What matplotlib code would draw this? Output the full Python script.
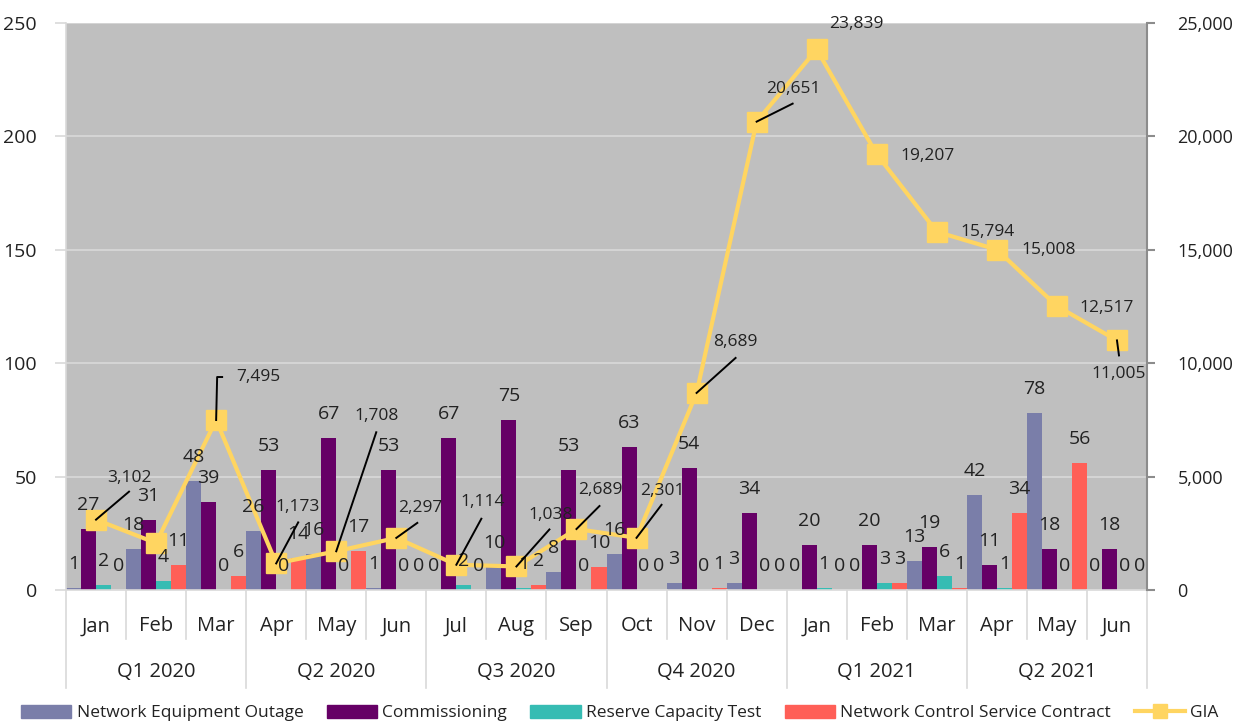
import matplotlib
matplotlib.use("Agg")
import matplotlib.pyplot as plt
from matplotlib.lines import Line2D
from matplotlib.patches import Patch
from matplotlib.ticker import FuncFormatter, MultipleLocator
from matplotlib.transforms import IdentityTransform

plt.rcParams['font.family'] = ['Open Sans', 'DejaVu Sans']

months = ["Jan", "Feb", "Mar", "Apr", "May", "Jun", "Jul", "Aug", "Sep",
          "Oct", "Nov", "Dec", "Jan", "Feb", "Mar", "Apr", "May", "Jun"]
quarters = ["Q1 2020", "Q2 2020", "Q3 2020", "Q4 2020", "Q1 2021", "Q2 2021"]

network_equipment_outage = [1, 18, 48, 26, 16, 1, 0, 10, 8, 16, 3, 3, 0, 0, 13, 42, 78, 0]
commissioning = [27, 31, 39, 53, 67, 53, 67, 75, 53, 63, 54, 34, 20, 20, 19, 11, 18, 18]
reserve_capacity_test = [2, 4, 0, 0, 0, 0, 2, 1, 0, 0, 0, 0, 1, 3, 6, 1, 0, 0]
network_control_service_contract = [0, 11, 6, 14, 17, 0, 0, 2, 10, 0, 1, 0, 0, 3, 1, 34, 56, 0]
gia = [3102, 2070, 7495, 1173, 1708, 2297, 1114, 1038, 2689, 2301, 8689, 20651,
       23839, 19207, 15794, 15008, 12517, 11005]
gia_label_shown = [True, False] + [True] * 16

# GIA label offsets (pixels, up = positive) and leader-line polyline points
gia_offsets = [(33, 42), None, (42, 43), (21, 56), (40, 135), (24, 30), (26, 63),
               (34, 51), (24, 39), (26, 47), (39, 51), (37, 33), (40, 25),
               (51, -2), (51, 0), (52, 0), (50, -2), (2, -34)]
leader_ends = [[(33, 28)], None, [(1, 43), (6, 43)], [(22, 41)], [(40, 119)], [(21, 15)],
               [(25, 46)], [(33, 37)], [(23, 23)], [(25, 33)], [(39, 35)], [(36, 18)],
               None, None, None, None, None, [(2, -15)]]

series = [network_equipment_outage, commissioning, reserve_capacity_test,
          network_control_service_contract]
names = ["Network Equipment Outage", "Commissioning", "Reserve Capacity Test",
         "Network Control Service Contract"]
colors = ["#7A7EA9", "#660066", "#36BCB3", "#FF5F57"]
gia_color = "#FFD561"
text_color = "#222222"

W, H = 1247, 725
fig = plt.figure(figsize=(W / 100, H / 100), dpi=100)
L, R, T, B = 66, 1147, 23, 590
ax = fig.add_axes([L / W, 1 - B / H, (R - L) / W, (B - T) / H])
ax.set_facecolor("#BFBFBF")
ax2 = ax.twinx()

n = len(months)
xs = list(range(n))
bw = 0.25
for i, (vals, c) in enumerate(zip(series, colors)):
    offs = -0.375 + i * bw
    ax.bar([x + offs for x in xs], vals, width=bw, color=c, zorder=2, linewidth=0)

ax.set_xlim(-0.5, n - 0.5)
ax.set_ylim(0, 250)
ax.yaxis.set_major_locator(MultipleLocator(50))
ax.set_axisbelow(True)
ax.yaxis.grid(True, color="#D9D9D9", linewidth=1.2, zorder=0)
ax.xaxis.grid(False)

ax2.set_ylim(0, 25000)
ax2.yaxis.set_major_locator(MultipleLocator(5000))
ax2.yaxis.set_major_formatter(FuncFormatter(lambda v, p: f"{int(v):,}"))

ax2.plot(xs, gia, color=gia_color, linewidth=3, marker="s", markersize=14,
         zorder=3, clip_on=False)

ax.spines["top"].set_visible(False)
ax2.spines["top"].set_visible(False)
ax.spines["left"].set_color("#D9D9D9")
ax.spines["left"].set_linewidth(1.2)
ax.spines["bottom"].set_color("#D9D9D9")
ax.spines["bottom"].set_linewidth(1.2)
ax.spines["right"].set_visible(False)
ax2.spines["left"].set_visible(False)
ax2.spines["bottom"].set_visible(False)
ax2.spines["right"].set_color("#8C8C8C")
ax2.spines["right"].set_linewidth(1.5)

ax.tick_params(axis="y", length=8, width=1.2, color="#D9D9D9", pad=13,
               labelsize=14, labelcolor=text_color)
ax2.tick_params(axis="y", length=6, width=1.5, color="#8C8C8C", pad=16,
                labelsize=13, labelcolor=text_color)
ax.set_xticks(xs)
ax.set_xticklabels(months)
ax.tick_params(axis="x", length=0, pad=19, labelsize=14.5, labelcolor=text_color)

# category separators and quarter labels
tr = ax.get_xaxis_transform()
ph = B - T
for k in range(n + 1):
    xb = k - 0.5
    depth = 98 if k % 3 == 0 else 49
    ax.plot([xb, xb], [0, -depth / ph], transform=tr, color="#D9D9D9",
            linewidth=1.2, clip_on=False)
for qi, q in enumerate(quarters):
    ax.text(qi * 3 + 1, -82 / ph, q, transform=tr, ha="center", va="center",
            fontsize=14.5, color=text_color)

# bar value labels (drawn on the top axes so they sit above the line)
for i, vals in enumerate(series):
    offs = -0.375 + i * bw
    for x, v in zip(xs, vals):
        ax2.annotate(str(v), xy=(x + offs, v), xycoords=ax.transData,
                     xytext=(0, 24), textcoords="offset pixels",
                     ha="center", va="center", fontsize=14, color=text_color,
                     zorder=6, annotation_clip=False)

# GIA labels
for x, v, off, show in zip(xs, gia, gia_offsets, gia_label_shown):
    if not show:
        continue
    dx, dy = off
    ax2.annotate(f"{v:,}", xy=(x, v), xycoords="data",
                 xytext=(dx, dy), textcoords="offset pixels",
                 ha="center", va="center", fontsize=12.5, color=text_color,
                 zorder=6, annotation_clip=False)

# leader lines (pixel polylines starting at each marker centre)
fig.canvas.draw()
for x, v, ends in zip(xs, gia, leader_ends):
    if not ends:
        continue
    bx, by = ax2.transData.transform((x, v))
    px = [bx] + [bx + e[0] for e in ends]
    py = [by] + [by + e[1] for e in ends]
    fig.add_artist(Line2D(px, py, color="black", lw=1.4, zorder=5,
                          transform=IdentityTransform()))

handles = [Patch(facecolor=c, edgecolor=c) for c in colors]
handles.append(Line2D([0], [0], color=gia_color, linewidth=3, marker="s", markersize=10))
fig.legend(handles, names + ["GIA"], loc="center", bbox_to_anchor=(0.497, 1 - 713 / H),
           ncol=5, frameon=False, fontsize=12.5, handlelength=2.9, handleheight=0.85,
           handletextpad=0.3, columnspacing=1.35, labelcolor=text_color)

fig.savefig("out.png", dpi=100)
